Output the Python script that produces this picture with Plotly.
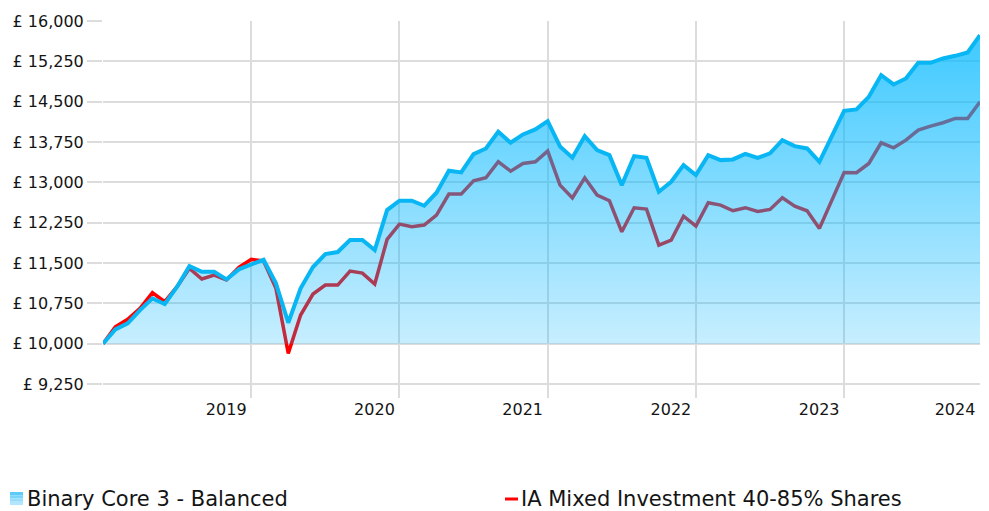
import plotly.graph_objects as go

# ---- data (monthly, Jan 2018 .. Dec 2023) ----
binary_core3 = [10000, 10267, 10378, 10626, 10843, 10738, 11060, 11444, 11338, 11338, 11197, 11383,
                11475, 11560, 11122, 10390, 11030, 11426, 11667, 11705, 11928, 11928, 11742, 12486,
                12659, 12659, 12566, 12808, 13217, 13186, 13527, 13632, 13942, 13738, 13893, 13986,
                14140, 13670, 13460, 13860, 13601, 13508, 12950, 13490, 13458, 12826, 13012, 13322,
                13136, 13508, 13415, 13428, 13530, 13455, 13540, 13787, 13676, 13632, 13384, 13849,
                14332, 14358, 14593, 14996, 14823, 14934, 15225, 15225, 15306, 15355, 15418, 15740]
ia_mixed = [10000, 10316, 10453, 10657, 10948, 10781, 11060, 11401, 11203, 11277, 11185, 11420,
            11568, 11540, 11030, 9820, 10533, 10924, 11091, 11091, 11351, 11314, 11110, 11940,
            12225, 12175, 12207, 12393, 12783, 12783, 13030, 13086, 13384, 13210, 13353, 13384,
            13583, 12950, 12710, 13086, 12764, 12659, 12082, 12529, 12504, 11835, 11928, 12374,
            12188, 12622, 12579, 12473, 12530, 12460, 12498, 12715, 12560, 12473, 12145, 12672,
            13186, 13180, 13353, 13738, 13644, 13787, 13973, 14048, 14110, 14190, 14190, 14500]
months = list(range(len(binary_core3)))
baseline_value = 10000
series_names = ["Binary Core 3 - Balanced", "IA Mixed Investment 40-85% Shares"]
x_tick_vals = [0, 12, 24, 36, 48, 60, 71]
x_tick_text = ["", "2019", "2020", "2021", "2022", "2023", "2024"]
y_tick_vals = [9250, 10000, 10750, 11500, 12250, 13000, 13750, 14500, 15250, 16000]
y_tick_text = ["£ 9,250", "£ 10,000", "£ 10,750", "£ 11,500", "£ 12,250", "£ 13,000",
               "£ 13,750", "£ 14,500", "£ 15,250", "£ 16,000"]

FONT = "DejaVu Sans"
GRID = "#dcdcdc"
TEXT = "#141414"

fig = go.Figure()
fig.add_trace(go.Scatter(x=months, y=ia_mixed, mode="lines", name=series_names[1],
                         line=dict(color="#ff0000", width=3.5), showlegend=False))
fig.add_trace(go.Scatter(x=months, y=[baseline_value] * len(months), mode="lines",
                         line=dict(width=0, color="rgba(0,0,0,0)"), showlegend=False,
                         hoverinfo="skip"))
fig.add_trace(go.Scatter(x=months, y=binary_core3, mode="lines", name=series_names[0],
                         fill="tonexty",
                         fillgradient=dict(type="vertical",
                                           colorscale=[[0, "rgba(0,180,255,0.22)"],
                                                       [1, "rgba(0,185,255,0.78)"]],
                                           start=10000, stop=16000),
                         line=dict(color="#08b6f4", width=4), showlegend=False))

# page coords (the browser page adds an 8px body margin)
def px_x(p):
    return (p - 103) / 877

def px_y(p):
    return (398 - p) / 377

shapes = []
band_cols = ["#5ccbf9", "#78d4fa", "#95ddfb", "#b1e6fc"]
for k, c in enumerate(band_cols):
    y0 = 492 + k * 13 / 4
    shapes.append(dict(type="rect", xref="paper", yref="paper",
                       x0=px_x(10), x1=px_x(23), y0=px_y(y0 + 13 / 4), y1=px_y(y0),
                       fillcolor=c, line=dict(width=0)))
shapes.append(dict(type="line", xref="paper", yref="paper",
                   x0=px_x(505), x1=px_x(518), y0=px_y(499), y1=px_y(499),
                   line=dict(color="#ff0000", width=3)))

annotations = [
    dict(text=series_names[0], xref="paper", yref="paper", x=px_x(25), y=px_y(499),
         xanchor="left", yanchor="middle", showarrow=False,
         font=dict(family=FONT, size=21, color=TEXT)),
    dict(text=series_names[1], xref="paper", yref="paper", x=px_x(519), y=px_y(499),
         xanchor="left", yanchor="middle", showarrow=False,
         font=dict(family=FONT, size=21, color=TEXT)),
]

fig.update_layout(
    width=981, height=503,
    margin=dict(l=95, r=9, t=13, b=113, pad=0, autoexpand=False),
    paper_bgcolor="white", plot_bgcolor="white",
    font=dict(family=FONT, color=TEXT),
    showlegend=False,
    shapes=shapes, annotations=annotations,
    xaxis=dict(range=[0, 71], tickvals=x_tick_vals, ticktext=x_tick_text,
               showgrid=True, gridcolor=GRID, gridwidth=2, zeroline=False,
               showline=False, ticks="", ticklabelshift=-25, automargin=False,
               tickfont=dict(family=FONT, size=16, color=TEXT)),
    yaxis=dict(range=[8990, 16003], tickvals=y_tick_vals, ticktext=y_tick_text,
               showgrid=True, gridcolor=GRID, gridwidth=2, zeroline=False,
               showline=False, ticks="outside", ticklen=15, tickcolor=GRID, tickwidth=2,
               automargin=False,
               tickfont=dict(family=FONT, size=16, color=TEXT)),
)

fig.write_html("out.html")
